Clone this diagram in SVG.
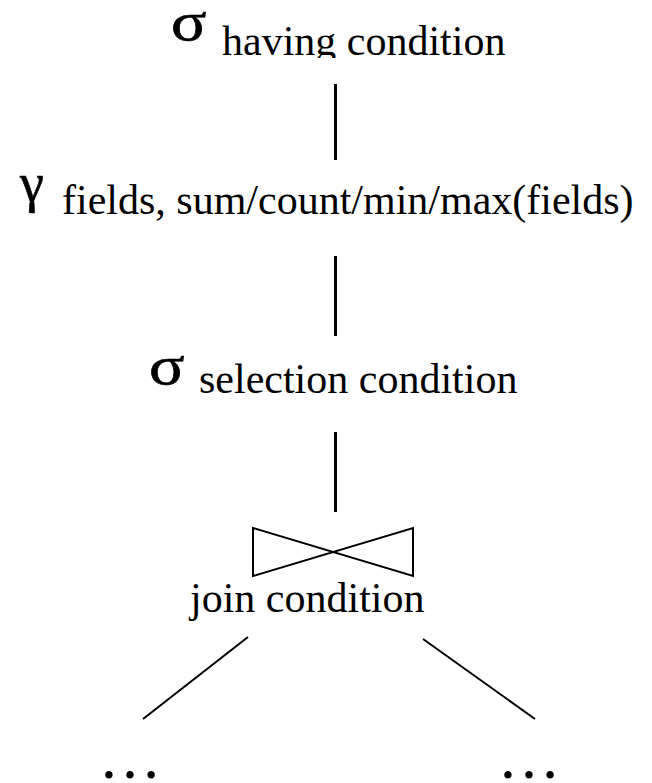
<svg xmlns="http://www.w3.org/2000/svg" width="652" height="783" viewBox="0 0 652 783">
  <style>
    .op { font-size: 54px; stroke: #000; stroke-width: 0.6; }
    .sub { font-size: 42px; }
    .dots { font-size: 63px; text-anchor: middle; }
    .edge { stroke: #000; stroke-width: 3; fill: none; }
    .diag { stroke: #000; stroke-width: 2; fill: none; }
    .bowtie { stroke: #000; stroke-width: 2; fill: none; stroke-linejoin: miter; }
  </style>
  <defs>
    <clipPath id="topClip">
      <rect x="0" y="0" width="652" height="58"/>
    </clipPath>
  </defs>
  <rect width="652" height="783" fill="#fff"/>

  <g font-family="'Liberation Serif', 'Times New Roman', serif" fill="#000">
    <g id="having">
      <text class="op" transform="translate(171,40) scale(1.22,1)">σ</text>
      <text class="sub" x="222" y="55" clip-path="url(#topClip)">having condition</text>
    </g>

    <g id="groupby">
      <text class="op" x="20" y="201" font-size="58">γ</text>
      <text class="sub" x="62" y="214">fields, sum/count/min/max(fields)</text>
    </g>

    <g id="selection">
      <text class="op" transform="translate(149,384) scale(1.22,1)">σ</text>
      <text class="sub" x="199" y="393">selection condition</text>
    </g>

    <g id="join">
      <polygon class="bowtie" points="253,528 413,576 413,528 253,576"/>
      <text class="sub" x="190" y="612">join condition</text>
    </g>

    <g id="left-input">
      <text class="dots" x="130" y="778">…</text>
    </g>
    <g id="right-input">
      <text class="dots" x="529" y="778">…</text>
    </g>
  </g>

  <g id="connectors">
    <line class="edge" x1="335.5" y1="84" x2="335.5" y2="160"/>
    <line class="edge" x1="335.5" y1="256" x2="335.5" y2="336"/>
    <line class="edge" x1="335.5" y1="432" x2="335.5" y2="512"/>
    <line class="diag" x1="248" y1="637" x2="143" y2="719"/>
    <line class="diag" x1="423" y1="639" x2="535" y2="719"/>
  </g>
</svg>
